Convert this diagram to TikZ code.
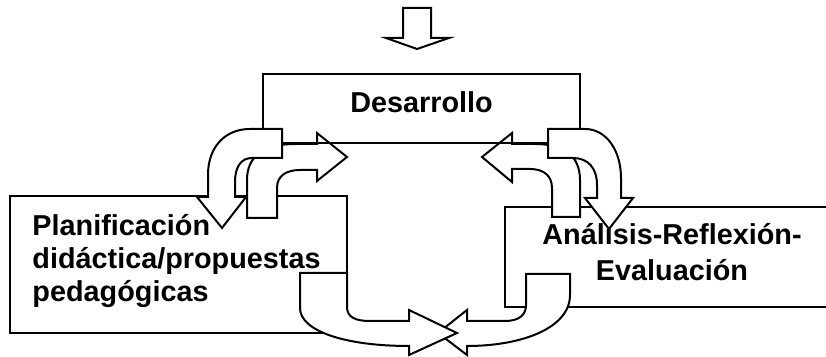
\documentclass[tikz,border=0pt]{standalone}
\usepackage{fontspec}
\setmainfont{Liberation Sans}
\usetikzlibrary{positioning}
\tikzset{
    box/.style={
           rectangle,
           draw=black, line width=1pt,
           inner sep=0pt,
           font=\fontsize{14.4}{16.6}\selectfont\bfseries,
           },
    bigarrow/.style={
           draw=black, fill=white, line width=1pt,
           line join=miter,
           },
}
\begin{document}
\begin{tikzpicture}[x=0.5pt, y=-0.5pt]
  \useasboundingbox (0,0) rectangle (826,357);
  \clip (0,0) rectangle (826,357);
  \node[box, minimum width=168.5pt, minimum height=68.5pt, text width=146pt,
        align=left, text depth=40pt] (plan) at (178.5,264.5)
        {Planificación\\didáctica/propuestas\\pedagógicas};
  \node[box, minimum width=167pt, minimum height=50pt, align=center, text depth=5pt,
        font=\fontsize{14.4}{18.35}\selectfont\bfseries] (anal) at (672,257)
        {Análisis-Reflexión-\\Evaluación};
  % arrow into Desarrollo
  \draw[bigarrow] (403,8) -- (431,8) -- (431,38) -- (449,38) -- (417,49) -- (386,38) -- (403,38) -- cycle;
  % arrows going up into Desarrollo
  \draw[bigarrow] (247,218) -- (247,180) .. controls (247,156) and (264,144) .. (295,144) -- (317,144)
        -- (317,133) -- (347,157) -- (317,181) -- (317,170) -- (300,170)
        .. controls (286,170) and (277,176) .. (277,188) -- (277,218) -- cycle;
  \draw[bigarrow] (580,217) -- (580,180) .. controls (580,156) and (564,144) .. (535,144) -- (512,144)
        -- (512,133) -- (482,157) -- (512,182) -- (512,169) -- (530,169)
        .. controls (544,169) and (552,176) .. (552,188) -- (552,217) -- cycle;
  \node[box, minimum width=158.5pt, minimum height=34.5pt, text depth=6.5pt] (desa) at (421.5,108.5) {Desarrollo};
  % arrows going down out of Desarrollo
  \draw[bigarrow] (282,129) -- (250,129) .. controls (225,129) and (208,147) .. (208,175) -- (208,197)
        -- (197,197) -- (222,228) -- (246,197) -- (235,197) -- (235,182)
        .. controls (235,167) and (241,158) .. (252,158) -- (282,158) -- cycle;
  \draw[bigarrow] (548,129) -- (585,129) .. controls (606,129) and (621,150) .. (621,178) -- (621,198)
        -- (633,198) -- (609,229) -- (585,198) -- (597,198) -- (597,185)
        .. controls (597,168) and (588,158) .. (573,158) -- (548,158) -- cycle;
  % bottom arrows
  \draw[bigarrow] (570,274) -- (570,295) .. controls (570,328) and (522,346) .. (467,346) -- (467,355)
        -- (438,333) -- (467,310) -- (467,321) -- (505,321)
        .. controls (519,321) and (526,315) .. (526,305) -- (526,274) -- cycle;
  \draw[bigarrow] (300,273) -- (300,308) .. controls (300,331) and (345,346) .. (409,346) -- (409,355)
        -- (457,333) -- (409,310) -- (409,321) -- (370,321)
        .. controls (355,321) and (347,317) .. (347,307) -- (347,273) -- cycle;
\end{tikzpicture}
\end{document}
